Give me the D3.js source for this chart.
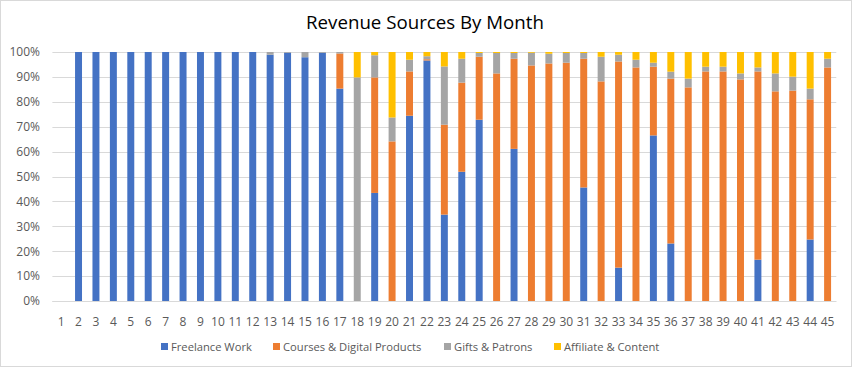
<!DOCTYPE html>
<html><head><meta charset="utf-8">
<script src="https://cdn.jsdelivr.net/npm/d3@7"></script>
<style>
html,body{margin:0;padding:0;background:#fff;}
svg{display:block;font-family:"Open Sans","Segoe UI",sans-serif;}
</style></head>
<body><svg id="c" width="852" height="367"></svg>
<script>
const months = d3.range(1, 46).map(String);
const seriesNames = ["Freelance Work", "Courses & Digital Products", "Gifts & Patrons", "Affiliate & Content"];
const colors = ["#4472c4", "#ed7d31", "#a5a5a5", "#ffc000"];
const yTicks = [0,0.1,0.2,0.3,0.4,0.5,0.6,0.7,0.8,0.9,1];

const freelance = [0,100,100,100,100,100,100,100,100,100,100,100,98.9,99.7,97.9,99.7,85.3,0,43.4,0,74.4,96.6,34.7,51.9,72.8,0,61.1,0,0,0,45.6,0,13.4,0,66.5,23.1,0,0,0,0,16.6,0,0,24.7,0];
const courses = [0,0,0,0,0,0,0,0,0,0,0,0,0,0,0,0,14.1,0,46.4,64.1,17.8,0.5,36.1,35.8,25.3,91.4,36.2,94.6,95.4,95.7,51.7,88.2,82.8,93.8,27.6,66.2,85.8,92.2,92.2,89.0,75.6,84.2,84.5,56.3,93.8];
const gifts = [0,0,0,0,0,0,0,0,0,0,0,0,1.1,0.3,2.1,0.3,0.6,89.8,8.9,9.6,4.7,1.2,23.4,9.6,1.5,8.2,2.3,5.1,3.9,3.9,2.3,9.9,2.7,3.1,1.6,2.8,3.5,1.9,1.9,2.4,1.6,7.2,5.6,4.3,3.5];
const affiliate = [0,0,0,0,0,0,0,0,0,0,0,0,0,0,0,0,0,10.2,1.3,26.3,3.1,1.7,5.8,2.7,0.4,0.4,0.4,0.3,0.7,0.4,0.4,1.9,1.1,3.1,4.3,7.9,10.7,5.9,5.9,8.6,6.2,8.6,9.9,14.7,2.7];

const rows = months.map((m, i) => ({month: m, s0: freelance[i], s1: courses[i], s2: gifts[i], s3: affiliate[i]}));
const keys = ["s0","s1","s2","s3"];
const stack = d3.stack().keys(keys).offset(d3.stackOffsetExpand)(rows);

const svg = d3.select("#c");
svg.append("rect").attr("x",0.5).attr("y",0.5).attr("width",851).attr("height",366)
  .attr("fill","#fff").attr("stroke","#d9d9d9");

const m = {left: 52.4, right: 836.3, top: 52, bottom: 301};
const x = d3.scaleBand().domain(months).range([m.left, m.right]).paddingInner(0.6).paddingOuter(0.3);
const y = d3.scaleLinear().domain([0,1]).range([m.bottom, m.top]);

svg.append("g").selectAll("line").data(yTicks).join("line")
  .attr("x1", m.left).attr("x2", m.right)
  .attr("y1", d => Math.round(y(d))+0.5).attr("y2", d => Math.round(y(d))+0.5)
  .attr("stroke", "#d9d9d9").attr("stroke-width", 1);

svg.append("g").selectAll("g").data(stack).join("g")
  .attr("fill", (d,i) => colors[i])
  .selectAll("rect").data(d => d.filter(p => !isNaN(p[0]) && !isNaN(p[1]))).join("rect")
  .attr("x", d => x(d.data.month))
  .attr("width", x.bandwidth())
  .attr("y", d => y(d[1]))
  .attr("height", d => Math.max(0, y(d[0]) - y(d[1])));

const yAxis = d3.axisLeft(y).tickValues(yTicks).tickFormat(d3.format(".0%")).tickSize(0).tickPadding(0);
const ya = svg.append("g").attr("transform", `translate(40,0)`).call(yAxis);
ya.select(".domain").remove();
ya.selectAll("text").attr("fill","#595959").style("font-size","12px").style("font-family","'Open Sans',sans-serif");

const xAxis = d3.axisBottom(x).tickSize(0).tickPadding(0);
const xa = svg.append("g").attr("transform", `translate(0,${m.bottom})`).call(xAxis);
xa.select(".domain").attr("stroke","#d9d9d9").attr("d", `M${m.left},0.5H${m.right}`);
xa.selectAll("text").attr("fill","#595959").attr("dy","0").attr("y",25)
  .style("font-size","12px").style("font-family","'Open Sans',sans-serif");

svg.append("text").attr("x", 425).attr("y", 29).attr("text-anchor","middle")
  .attr("fill","#000").style("font-size","18.7px").style("font-family","'Open Sans',sans-serif")
  .text("Revenue Sources By Month");

const legX = [161, 273, 444, 554];
const lg = svg.append("g").selectAll("g").data(seriesNames).join("g")
  .attr("transform", (d,i) => `translate(${legX[i]},343)`);
lg.append("rect").attr("width",7).attr("height",7).attr("fill",(d,i)=>colors[i]);
lg.append("text").attr("x",10).attr("y",8).attr("fill","#595959")
  .style("font-size","11.2px").style("font-family","'Open Sans',sans-serif").text(d => d);
</script></body></html>
